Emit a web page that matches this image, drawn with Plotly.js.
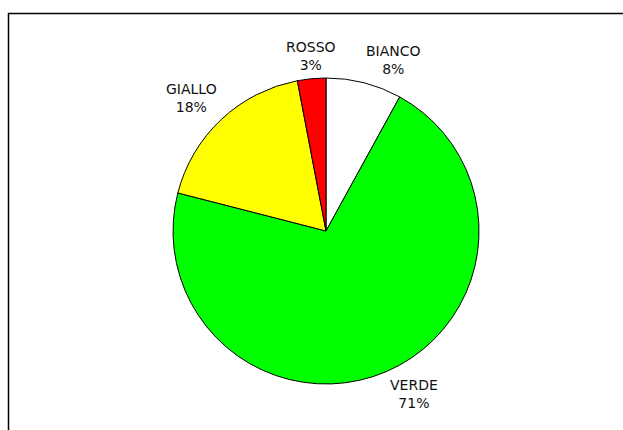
<!DOCTYPE html>
<html>
<head>
<meta charset="utf-8">
<script src="https://cdn.plot.ly/plotly-3.0.1.min.js"></script>
<style>html,body{margin:0;padding:0;background:#fff;}#chart{width:623px;height:430px;}</style>
</head>
<body>
<div id="chart"></div>
<script>
const labels = ["BIANCO", "VERDE", "GIALLO", "ROSSO"];
const values = [8, 71, 18, 3];
const colors = ["#ffffff", "#00ff00", "#ffff00", "#ff0000"];

const W = 623, H = 430;
const dom = {x: [0.2777, 0.7689], y: [0.107, 0.8186]};

const trace = {
  type: "pie",
  labels: labels,
  values: values,
  sort: false,
  direction: "clockwise",
  rotation: 0,
  marker: {colors: colors, line: {color: "#000000", width: 1}},
  textinfo: "none",
  hoverinfo: "label+percent",
  domain: dom,
  automargin: false
};

// Excel-style outside labels: nearest corner of the label at the slice's mid-angle
const total = values.reduce((a, b) => a + b, 0);
const cx = (dom.x[0] + dom.x[1]) / 2 * W;
const cy = (1 - (dom.y[0] + dom.y[1]) / 2) * H;
const r = Math.min((dom.x[1] - dom.x[0]) * W, (dom.y[1] - dom.y[0]) * H) / 2;
const gap = 5;
let cum = 0;
const annotations = values.map((v, i) => {
  const mid = (cum + v / 2) / total * 2 * Math.PI;
  cum += v;
  const s = Math.sin(mid), c = Math.cos(mid);
  const px = cx + (r + gap) * s, py = cy - (r + gap) * c;
  return {
    xref: "paper", yref: "paper",
    x: px / W, y: 1 - py / H,
    xanchor: Math.abs(s) < 0.2 ? "center" : (s > 0 ? "left" : "right"),
    yanchor: c > 0 ? "bottom" : "top",
    showarrow: false,
    align: "center",
    text: labels[i] + "<br>" + Math.round(v / total * 100) + "%",
    font: {family: "DejaVu Sans, Verdana, sans-serif", size: 14, color: "#111111"},
    borderpad: 0
  };
});

const layout = {
  width: W,
  height: H,
  margin: {l: 0, r: 0, t: 0, b: 0},
  paper_bgcolor: "#ffffff",
  showlegend: false,
  annotations: annotations,
  shapes: [{
    type: "rect", xref: "paper", yref: "paper",
    x0: 8.5 / W, x1: 1.2, y0: -0.2, y1: 1 - 13.5 / H,
    line: {color: "#000000", width: 1.5}, fillcolor: "rgba(0,0,0,0)"
  }]
};

Plotly.newPlot("chart", [trace], layout, {displayModeBar: false, staticPlot: true});
</script>
</body>
</html>
